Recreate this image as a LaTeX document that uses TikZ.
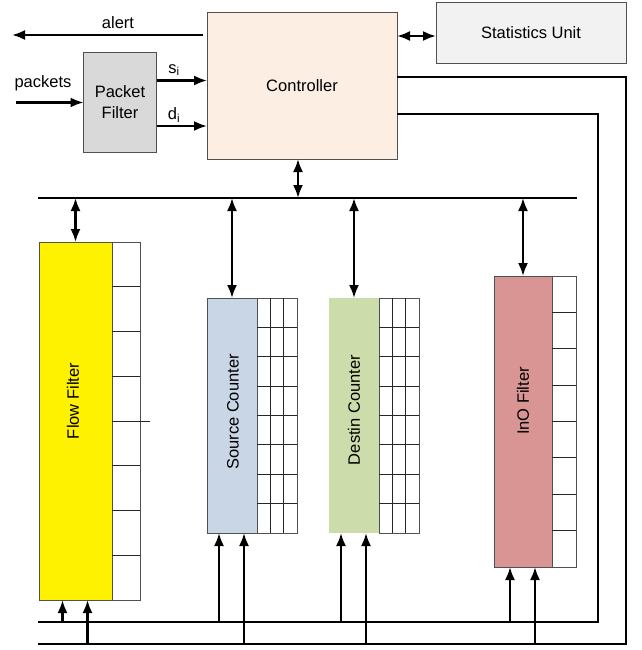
\documentclass[tikz,border=0pt]{standalone}
\usepackage{fontspec}
\setmainfont{Liberation Sans}
\usetikzlibrary{arrows.meta,positioning,calc}
\definecolor{edge}{RGB}{80,80,80}
\definecolor{pfgray}{RGB}{217,217,217}
\definecolor{ctrlpeach}{RGB}{253,238,228}
\definecolor{statgray}{RGB}{242,242,242}
\definecolor{srcblue}{RGB}{200,214,230}
\definecolor{dstgreen}{RGB}{205,220,171}
\definecolor{inored}{RGB}{217,149,148}

\begin{document}
\begin{tikzpicture}[
  x=1pt,y=-1pt,
  every node/.style={font=\fontsize{16.5}{21}\selectfont},
  blk/.style={draw=edge,line width=1pt,inner sep=0pt,outer sep=0pt,align=center},
  tbl/.style={draw=edge,line width=1pt,fill=white,inner sep=0pt,outer sep=0pt,anchor=north west},
  cell/.style={draw=black!85,line width=1pt},
  wire/.style={line width=2.2pt,draw=black},
  arr/.style={wire,-{Latex[length=13pt,width=10pt]}},
  dbl/.style={wire,{Latex[length=13pt,width=10pt]}-{Latex[length=13pt,width=10pt]}},
  lbl/.style={inner sep=0pt}
]
\useasboundingbox (0,0) rectangle (641,650);
% top row
\node[blk,fill=pfgray,minimum width=73pt,minimum height=99pt] (pf) at (120,102.5) {Packet\\Filter};
\node[blk,fill=ctrlpeach,minimum width=190pt,minimum height=146pt] (ctrl) at (302,86) {Controller};
\node[blk,fill=statgray,minimum width=190pt,minimum height=61pt] (stats) at (531,33) {Statistics Unit};
\coordinate (alertEnd) at (12,35);
\coordinate (pktIn) at (16,102.5);
\draw[arr] ([xshift=-4pt,yshift=51pt]ctrl.west) -- (alertEnd);
\node[lbl] (alertL) at (118,23) {alert};
\draw[arr] (pktIn) -- (pf.west);
\node[lbl] (pktL) at (43,83) {packets};
\draw[arr] ([yshift=22pt]pf.east) -- ([yshift=22pt]pf.east -| ctrl.west);
\draw[arr] ([yshift=-23.5pt]pf.east) -- ([yshift=-23.5pt]pf.east -| ctrl.west);
\node[lbl] (siL) at (174,70) {s\textsubscript{i}};
\node[lbl] (diL) at (174,115) {d\textsubscript{i}};
\draw[dbl] ([yshift=50pt]ctrl.east) -- ([yshift=50pt]ctrl.east -| stats.west);
% bus
\coordinate (busW) at (38,198);
\coordinate (busE) at (577,198);
\draw[wire] (busW) -- (busE);
\draw[dbl] ([xshift=-4pt]ctrl.south) -- ([xshift=-4pt]ctrl.south |- busW);
% modules
\node[blk,fill=yellow,minimum width=73pt,minimum height=358pt] (ff) at (75.5,421) {};
\node[tbl,minimum width=28pt,minimum height=358pt] (fft) at (ff.north east) {};
\node[blk,fill=srcblue,minimum width=50pt,minimum height=235pt] (sc) at (232,415.5) {};
\node[tbl,minimum width=40pt,minimum height=235pt] (sct) at (sc.north east) {};
\node[blk,draw=none,fill=dstgreen,minimum width=50pt,minimum height=235pt] (dc) at (354,415.5) {};
\node[tbl,minimum width=40pt,minimum height=235pt] (dct) at (dc.north east) {};
\node[blk,fill=inored,minimum width=58pt,minimum height=291pt] (io) at (523,421.5) {};
\node[tbl,minimum width=24pt,minimum height=291pt] (iot) at (io.north east) {};
\node[lbl,rotate=90] (ffL) at (73,401) {Flow Filter};
\node[lbl,rotate=90] (scL) at (233,412) {Source Counter};
\node[lbl,rotate=90] (dcL) at (354,410) {Destin Counter};
\node[lbl,rotate=90] (ioL) at (523,401) {InO Filter};
% table cells
\foreach \t in {fft,sct,dct,iot}
  \foreach \i in {1,...,7}
    \draw[cell] ($(\t.north west)!\i/8!(\t.south west)$) -- ($(\t.north east)!\i/8!(\t.south east)$);
\foreach \t in {sct,dct}
  \foreach \j in {1,2}
    \draw[cell] ($(\t.north west)!\j/3!(\t.north east)$) -- ($(\t.south west)!\j/3!(\t.south east)$);
\draw[cell] ($(fft.north east)!.5!(fft.south east)$) -- ++(10,0);
% links to bus
\foreach \n in {ff,sc,dc,io}
  \draw[dbl] (\n.north |- busW) -- (\n.north);
% lower lines from controller
\coordinate (lowE) at (626,644);
\coordinate (lowW) at (38,644);
\coordinate (midE) at (598,622);
\coordinate (midW) at (38,622);
\draw[wire] ([yshift=9pt]ctrl.east) -| (lowE) -- (lowW);
\draw[wire] ([yshift=-28pt]ctrl.east) -| (midE) -- (midW);
\foreach \n in {ff,sc,dc,io} {
  \draw[arr] ([xshift=-13pt]\n.south |- midW) -- ([xshift=-13pt]\n.south);
  \draw[arr] ([xshift=12pt]\n.south |- lowW) -- ([xshift=12pt]\n.south);
}
\end{tikzpicture}
\end{document}
